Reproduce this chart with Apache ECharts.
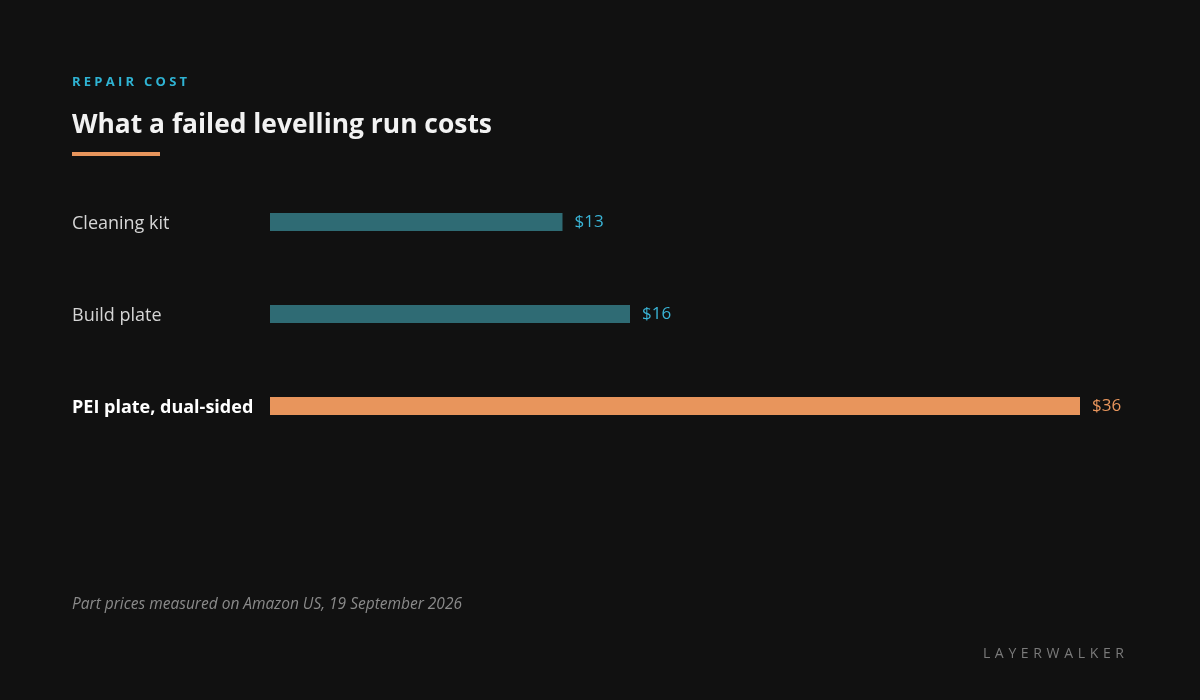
<!DOCTYPE html>
<html>
<head>
<meta charset="utf-8">
<script src="https://cdn.jsdelivr.net/npm/echarts@6/dist/echarts.min.js"></script>
<style>
  html, body { margin: 0; padding: 0; background: #111111; }
  #chart { width: 1200px; height: 700px; }
</style>
</head>
<body>
<div id="chart"></div>
<script>
const categories = ['Cleaning kit', 'Build plate', 'PEI plate, dual-sided'];
const values = [13, 16, 36];
const valueLabels = ['$13', '$16', '$36'];
const highlight = [false, false, true];

const FONT = '"Open Sans", "Noto Sans", sans-serif';
const TEAL_BAR = '#2f6b74';
const TEAL_TEXT = '#3ab4d6';
const ORANGE = '#e8955c';

const chart = echarts.init(document.getElementById('chart'));

const seriesData = values.map((v, i) => ({
  value: v,
  itemStyle: { color: highlight[i] ? ORANGE : TEAL_BAR },
  label: { color: highlight[i] ? ORANGE : TEAL_TEXT }
}));

chart.setOption({
  backgroundColor: '#111111',
  animation: false,
  grid: { left: 270, right: 120, top: 176, bottom: 248, containLabel: false },
  xAxis: {
    type: 'value', min: 0, max: 36,
    show: false
  },
  yAxis: {
    type: 'category',
    data: categories,
    inverse: true,
    axisLine: { show: false },
    axisTick: { show: false },
    splitLine: { show: false },
    axisLabel: {
      align: 'left',
      margin: 198,
      formatter: (val, idx) => highlight[idx] ? '{b|' + val + '}' : '{n|' + val + '}',
      rich: {
        n: { fontFamily: FONT, fontSize: 18, color: '#d6d6d6', padding: [3, 0, 0, 0] },
        b: { fontFamily: FONT, fontSize: 18, fontWeight: 'bold', color: '#ffffff', padding: [3, 0, 0, 0] }
      }
    }
  },
  series: [{
    type: 'bar',
    data: seriesData,
    barWidth: 18,
    label: {
      show: true,
      position: 'right',
      distance: 12,
      fontFamily: FONT,
      fontSize: 17,
      padding: [3, 0, 0, 0],
      formatter: p => valueLabels[p.dataIndex]
    }
  }],
  graphic: [
    {
      type: 'text', left: 72, top: 76,
      style: { text: 'R\u2005E\u2005P\u2005A\u2005I\u2005R\u2005 \u2005C\u2005O\u2005S\u2005T', font: 'bold 13px ' + FONT, fill: '#2fb3d3' }
    },
    {
      type: 'text', left: 72, top: 112,
      style: { text: 'What a failed levelling run costs', font: 'bold 26.4px ' + FONT, fill: '#f2f2f2' }
    },
    {
      type: 'rect', left: 72, top: 152,
      shape: { width: 88, height: 4 },
      style: { fill: ORANGE }
    },
    {
      type: 'text', left: 72, top: 597,
      style: { text: 'Part prices measured on Amazon US, 19 September 2026', font: 'italic 15.5px ' + FONT, fill: '#8a8a8a' }
    },
    {
      type: 'text', right: 76, top: 647,
      style: { text: 'L\u2004A\u2004Y\u2004E\u2004R\u2004W\u2004A\u2004L\u2004K\u2004E\u2004R', font: '14px ' + FONT, fill: '#7a7a7a' }
    }
  ]
});
</script>
</body>
</html>
